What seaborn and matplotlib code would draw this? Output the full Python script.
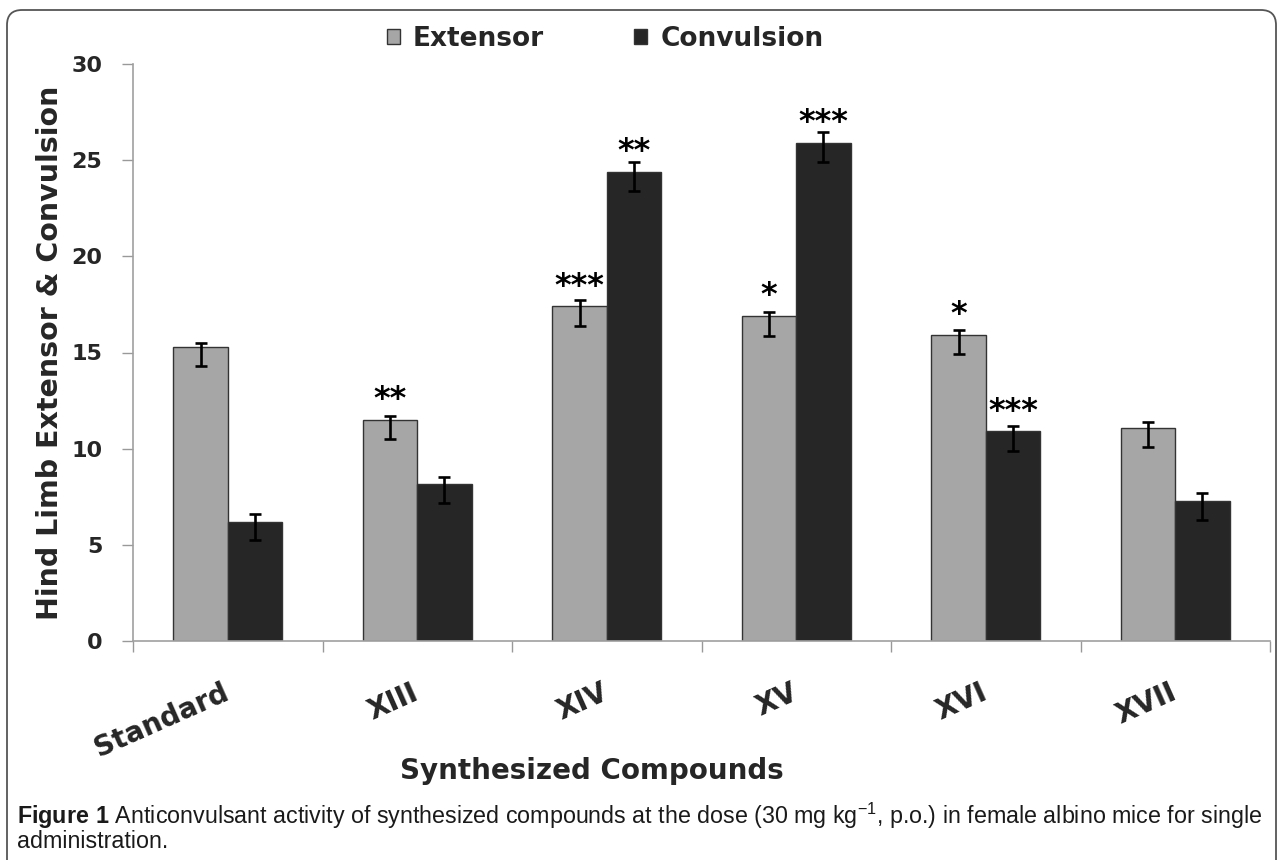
import numpy as np
import pandas as pd
import matplotlib
matplotlib.use("Agg")
import matplotlib.pyplot as plt
import seaborn as sns
from matplotlib.patches import FancyBboxPatch
from matplotlib.container import BarContainer
from matplotlib import font_manager

# ---------------- data ----------------
compounds = ["Standard", "XIII", "XIV", "XV", "XVI", "XVII"]
series = ["Extensor", "Convulsion"]
extensor = [15.3, 11.5, 17.4, 16.9, 15.9, 11.1]
extensor_err_up = [0.2, 0.2, 0.35, 0.2, 0.25, 0.3]
extensor_err_down = [1.0, 1.0, 1.0, 1.05, 1.0, 1.0]
convulsion = [6.2, 8.15, 24.4, 25.9, 10.9, 7.3]
convulsion_err_up = [0.4, 0.4, 0.5, 0.55, 0.3, 0.4]
convulsion_err_down = [0.95, 1.0, 1.0, 1.0, 1.0, 1.0]
extensor_sig = ["", "**", "***", "*", "*", ""]
convulsion_sig = ["", "", "**", "***", "***", ""]
y_ticks = [0, 5, 10, 15, 20, 25, 30]

caption_line1 = (r"$\mathbf{Figure\ 1}$ Anticonvulsant activity of synthesized compounds at the dose "
                 r"(30 mg kg$^{-1}$, p.o.) in female albino mice for single")
caption_line2 = "administration."

# ---------------- style ----------------
sns.set_style("white")


def has_font(name):
    try:
        font_manager.findfont(font_manager.FontProperties(family=name), fallback_to_default=False)
        return True
    except Exception:
        return False


cap_font = "Liberation Sans Narrow" if has_font("Liberation Sans Narrow") else "Liberation Sans"
plt.rcParams["font.family"] = ["DejaVu Sans"]
plt.rcParams["mathtext.fontset"] = "custom"
plt.rcParams["mathtext.rm"] = cap_font
plt.rcParams["mathtext.bf"] = cap_font + ":bold"
plt.rcParams["mathtext.default"] = "regular"

W, H = 1283, 860
fig = plt.figure(figsize=(W / 100, H / 100), dpi=100)
fig.patch.set_facecolor("white")

ax = fig.add_axes([133 / W, 1 - 641 / H, (1270 - 133) / W, (641 - 64) / H])

df = pd.DataFrame({
    "Compound": compounds * 2,
    "Series": [series[0]] * len(compounds) + [series[1]] * len(compounds),
    "Value": extensor + convulsion,
})

colors = {"Extensor": "#a6a6a6", "Convulsion": "#262626"}
sns.barplot(data=df, x="Compound", y="Value", hue="Series", order=compounds,
            hue_order=series, palette=colors, width=0.575, edgecolor="#333333",
            linewidth=1.0, errorbar=None, ax=ax, saturation=1)

err_up = [extensor_err_up, convulsion_err_up]
err_down = [extensor_err_down, convulsion_err_down]
sigs = [extensor_sig, convulsion_sig]
vals = [extensor, convulsion]
bar_containers = [c for c in ax.containers if isinstance(c, BarContainer)]
for k, cont in enumerate(bar_containers):
    xs = [p.get_x() + p.get_width() / 2 for p in cont.patches]
    hs = [p.get_height() for p in cont.patches]
    ax.errorbar(xs, hs, yerr=[err_down[k], err_up[k]], fmt="none", ecolor="black",
                elinewidth=1.9, capsize=4.5, capthick=1.9, zorder=5)
    for x, v, s in zip(xs, vals[k], sigs[k]):
        if s:
            ax.text(x, v + 1.05, s, ha="center", va="center", fontsize=23,
                    fontweight="bold", color="black", zorder=6)

ax.set_xlim(-0.5, len(compounds) - 0.5)
ax.set_ylim(0, 30)
ax.set_yticks(y_ticks)
ax.set_yticklabels([str(t) for t in y_ticks], fontsize=16, fontweight="bold")
ax.set_xticks(np.arange(len(compounds)))
ax.set_xticklabels(compounds, fontsize=20, fontweight="bold")
ax.set_xticks(np.arange(-0.5, len(compounds), 1), minor=True)
for lab in ax.get_xticklabels():
    lab.set_rotation(24)
    lab.set_ha("right")
    lab.set_va("center")
    lab.set_rotation_mode("anchor")

ax.tick_params(axis="x", which="major", length=0, pad=36)
ax.tick_params(axis="x", which="minor", length=8, color="#999999", width=1.0, bottom=True)
ax.tick_params(axis="y", length=8, color="#999999", width=1.0, pad=14, left=True)

for side in ["top", "right"]:
    ax.spines[side].set_visible(False)
for side in ["left", "bottom"]:
    ax.spines[side].set_color("#a0a0a0")
    ax.spines[side].set_linewidth(1.2)

ax.set_ylabel("Hind Limb Extensor & Convulsion", fontsize=20.5, fontweight="bold", labelpad=5)
ax.set_xlabel("Synthesized Compounds", fontsize=20, fontweight="bold")
ax.xaxis.set_label_coords((592 - 133) / (1270 - 133), (641 - 771) / (641 - 64))
ax.xaxis.label.set_va("center")

handles, labels = ax.get_legend_handles_labels()
if ax.legend_ is not None:
    ax.legend_.remove()
fig.legend(handles, labels, loc="center", bbox_to_anchor=(605 / W, 1 - 39 / H), ncol=2,
           frameon=False, prop={"weight": "bold", "size": 19}, handlelength=0.5,
           handleheight=0.5, handletextpad=0.5, columnspacing=3.4)

# rounded outer frame
frame = FancyBboxPatch((7 / W, 1 - 890 / H), (1276 - 7) / W, (890 - 10) / H,
                       boxstyle="round,pad=0,rounding_size=0.0117", mutation_aspect=1.49,
                       transform=fig.transFigure, facecolor="none", edgecolor="#555555",
                       linewidth=1.3, clip_on=False)
fig.patches.append(frame)

# caption
t1 = fig.text(17 / W, 1 - 816 / H, caption_line1, ha="left", va="center",
              fontsize=14, family=cap_font, color="#1a1a1a")
t2 = fig.text(17 / W, 1 - 842 / H, caption_line2, ha="left", va="center",
              fontsize=14, family=cap_font, color="#1a1a1a")
fig.canvas.draw()
r = fig.canvas.get_renderer()
wpx = t1.get_window_extent(r).width
fs = 14 * (1251 / wpx)
t1.set_fontsize(fs)
t2.set_fontsize(fs)

fig.savefig("out.png", dpi=100)
